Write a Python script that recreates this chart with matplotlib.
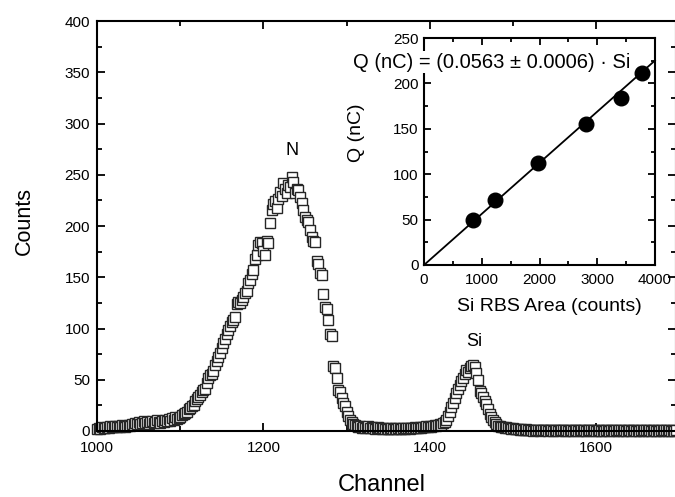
import numpy as np
import matplotlib

matplotlib.use("Agg")
import matplotlib.pyplot as plt
from matplotlib.ticker import MultipleLocator

plt.rcParams["font.family"] = ["Liberation Sans", "DejaVu Sans"]

# RBS spectrum, one value every 2 channels starting at channel 1000
counts = [
    # 1000 - 1048
    2, 3, 2, 4, 3, 3, 4, 3, 5, 4, 4, 5, 4, 5, 4, 6, 5, 4, 5, 6, 5, 7, 6, 8, 7,
    # 1050 - 1098
    9, 7, 8, 10, 8, 9, 7, 9, 10, 8, 9, 11, 9, 8, 10, 9, 11, 10, 12, 10, 13, 11, 14, 12, 13,
    # 1100 - 1198
    14, 16, 17, 18, 19, 21, 22, 24, 25, 29, 31, 33, 35, 38, 40, 41, 47, 52, 55, 56,
    59, 64, 68, 72, 76, 81, 86, 90, 95, 99, 102, 106, 108, 111, 124, 126, 125, 128, 131, 135,
    137, 144, 147, 153, 157, 168, 172, 181, 184, 183,
    # 1200 - 1298
    176, 172, 185, 183, 203, 216, 221, 224, 218, 226, 233, 229, 242, 236, 232, 240, 238, 248, 243, 232,
    236, 235, 228, 222, 216, 209, 206, 204, 196, 189, 185, 184, 166, 163, 154, 152, 134, 121, 119, 108,
    95, 93, 63, 61, 52, 40, 38, 32, 27, 24,
    # 1300 - 1398
    19, 15, 11, 9, 7, 6, 5, 4, 5, 3, 4, 3, 4, 5, 3, 4, 3, 2, 3, 4,
    3, 2, 3, 2, 3, 2, 2, 3, 2, 3, 2, 3, 2, 2, 3, 2, 3, 3, 2, 3,
    3, 4, 3, 3, 4, 3, 4, 4, 5, 4,
    # 1400 - 1498
    5, 4, 5, 6, 5, 6, 7, 6, 8, 9, 11, 15, 19, 23, 27, 32, 37, 41, 45, 49,
    52, 56, 60, 58, 61, 63, 64, 62, 57, 50, 39, 37, 33, 29, 26, 21, 17, 14, 11, 9,
    7, 5, 5, 4, 4, 3, 4, 3, 3, 2,
    # 1500 - 1696
    3, 2, 2, 2, 1, 2, 1, 1, 2, 1, 1, 1, 0, 1, 1, 1, 0, 1, 1, 1,
    1, 0, 1, 1, 0, 1, 1, 0, 1, 1, 1, 0, 1, 0, 1, 1, 0, 1, 1, 0,
    1, 1, 0, 1, 0, 1, 1, 1, 0, 1, 0, 1, 1, 0, 1, 0, 1, 1, 0, 1,
    1, 0, 1, 0, 1, 1, 0, 1, 0, 1, 1, 0, 1, 1, 0, 1, 0, 1, 0, 1,
    1, 0, 1, 0, 1, 1, 0, 1, 0, 1, 0, 1, 1, 0, 1, 0, 1, 0, 1,
]
channel = np.arange(1000, 1000 + 2 * len(counts), 2)

# calibration inset
si_area = [850, 1225, 1980, 2810, 3415, 3780]
charge_nc = [50, 72, 112, 155, 184, 212]
slope = 0.0563
fit_x = np.array([0, 4000])

fig = plt.figure(figsize=(6.75, 4.97), dpi=100)

ax = fig.add_axes([97 / 675, 1 - 431 / 497, 579 / 675, 410 / 497])
ax.plot(channel, counts, linestyle="none", marker="s", markersize=7.5,
        markerfacecolor="white", markeredgecolor="0.15", markeredgewidth=1.0,
        clip_on=False)
ax.set_xlim(1000, 1696)
ax.set_ylim(0, 400)
ax.xaxis.set_major_locator(MultipleLocator(200))
ax.xaxis.set_minor_locator(MultipleLocator(100))
ax.yaxis.set_major_locator(MultipleLocator(50))
ax.yaxis.set_minor_locator(MultipleLocator(25))
ax.tick_params(which="both", direction="in", top=True, right=True, width=1.3,
               labelsize=11)
ax.tick_params(which="major", length=6)
ax.tick_params(which="minor", length=3.5)
ax.tick_params(axis="x", pad=7)
ax.tick_params(axis="y", pad=5)
for sp in ax.spines.values():
    sp.set_linewidth(1.5)

ax.set_xlabel("Channel", fontsize=17)
ax.xaxis.set_label_coords(0.491, -0.106)
ax.set_ylabel("Counts", fontsize=15.5)
ax.yaxis.set_label_coords(-0.107, 0.513)

ax.text(1235, 274, "N", fontsize=13, ha="center", va="center")
ax.text(1453, 87, "Si", fontsize=13, ha="center", va="center")

ins = fig.add_axes([424 / 675, 1 - 265 / 497, 231 / 675, 227 / 497])
ins.plot(fit_x, slope * fit_x, color="black", linewidth=1.3, clip_on=False)
ins.plot(si_area, charge_nc, linestyle="none", marker="o", markersize=10.5,
         color="black")
ins.set_xlim(0, 4000)
ins.set_ylim(0, 250)
ins.xaxis.set_major_locator(MultipleLocator(1000))
ins.xaxis.set_minor_locator(MultipleLocator(500))
ins.yaxis.set_major_locator(MultipleLocator(50))
ins.yaxis.set_minor_locator(MultipleLocator(25))
ins.tick_params(which="both", direction="in", top=True, right=True, width=1.3,
                labelsize=11)
ins.tick_params(which="major", length=5)
ins.tick_params(which="minor", length=3)
ins.tick_params(axis="x", pad=6)
ins.tick_params(axis="y", pad=4)
for sp in ins.spines.values():
    sp.set_linewidth(1.5)
ins.set_xlabel("Si RBS Area (counts)", fontsize=14)
ins.xaxis.set_label_coords(0.541, -0.145)
ins.set_ylabel("Q (nC)", fontsize=14)
ins.yaxis.set_label_coords(-0.255, 0.581)

fig.text(491.5 / 675, 1 - 62 / 497, "Q (nC) = (0.0563 \u00b1 0.0006) \u00b7 Si",
         fontsize=14.5, ha="center", va="center", zorder=10,
         bbox=dict(facecolor="white", edgecolor="none", pad=1))

fig.savefig("out.png", dpi=100)
